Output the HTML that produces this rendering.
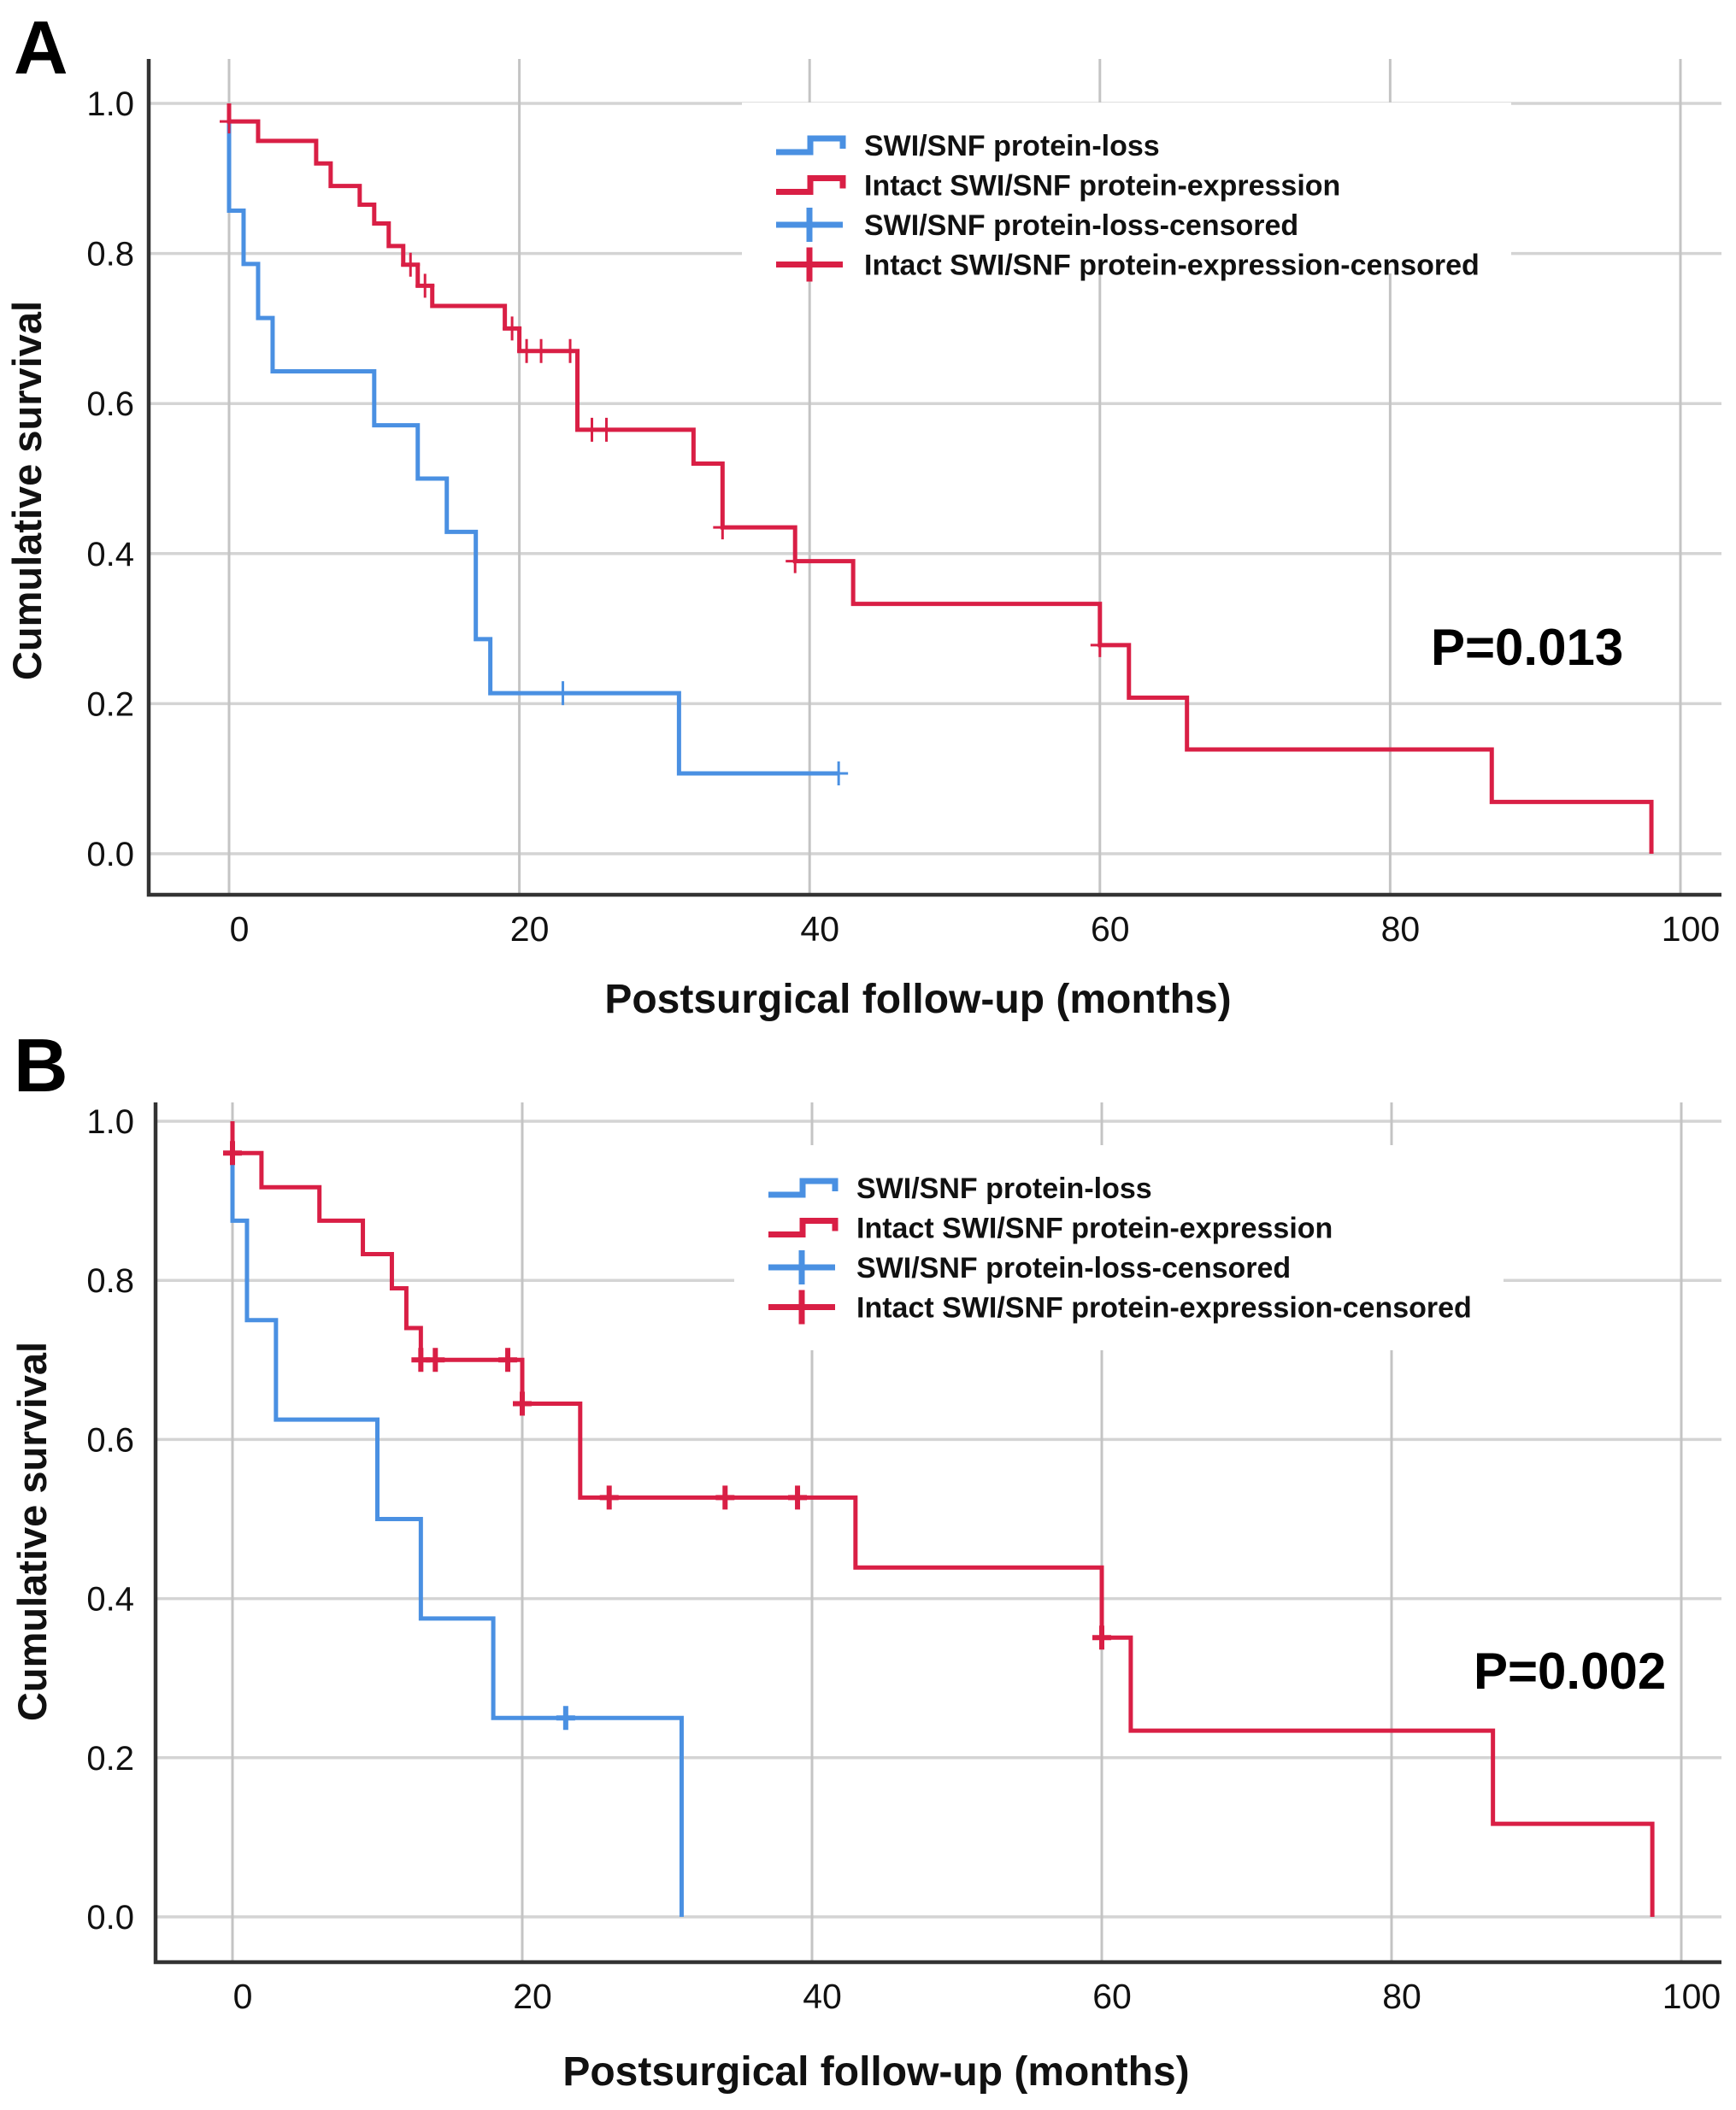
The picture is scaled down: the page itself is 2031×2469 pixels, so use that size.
<!DOCTYPE html>
<html><head><meta charset="utf-8">
<style>
html,body{margin:0;padding:0;background:#fff;}
svg{display:block;font-family:"Liberation Sans",Arial,sans-serif;}
</style></head>
<body>
<svg id="chart" width="2031" height="2469" viewBox="0 0 2031 2469" xmlns="http://www.w3.org/2000/svg"></svg>
<script>
// Panel A data
const aLossTimes = [0, 0, 1, 2, 3, 10, 13, 15, 17, 18, 31, 42];
const aLossSurv  = [1.0, 0.857, 0.786, 0.714, 0.643, 0.571, 0.5, 0.429, 0.286, 0.214, 0.107, 0.107];
const aLossCens  = [23, 42];
const aIntTimes = [0, 0, 2, 6, 7, 9, 10, 11, 12, 13, 14, 19, 20, 24, 32, 34, 39, 43, 60, 62, 66, 87, 98];
const aIntSurv  = [1.0, 0.976, 0.95, 0.92, 0.89, 0.865, 0.84, 0.81, 0.785, 0.757, 0.73, 0.70, 0.67, 0.565, 0.52, 0.435, 0.39, 0.333, 0.278, 0.208, 0.139, 0.069, 0.0];
const aIntCens  = [0, 12.5, 13.5, 19.5, 20.5, 21.5, 23.5, 25, 26, 34, 39, 60];
// Panel B data
const bLossTimes = [0, 0, 1, 3, 10, 13, 18, 31];
const bLossSurv  = [1.0, 0.875, 0.75, 0.625, 0.5, 0.375, 0.25, 0.0];
const bLossCens  = [23];
const bIntTimes = [0, 0, 2, 6, 9, 11, 12, 13, 20, 24, 43, 60, 62, 87, 98];
const bIntSurv  = [1.0, 0.96, 0.917, 0.875, 0.833, 0.79, 0.74, 0.70, 0.645, 0.527, 0.439, 0.351, 0.234, 0.117, 0.0];
const bIntCens  = [0, 13, 14, 19, 20, 26, 34, 39, 60];
const xTicks = [0, 20, 40, 60, 80, 100];
const yTicks = [0.0, 0.2, 0.4, 0.6, 0.8, 1.0];
const legendLabels = ["SWI/SNF protein-loss","Intact SWI/SNF protein-expression","SWI/SNF protein-loss-censored","Intact SWI/SNF protein-expression-censored"];

const NS = "http://www.w3.org/2000/svg";
const svg = document.getElementById('chart');
const BLUE = "#4a90e2", RED = "#d91f45";
function mk(tag, attrs, parent){ const e = document.createElementNS(NS, tag); for (const k in attrs) e.setAttribute(k, attrs[k]); (parent||svg).appendChild(e); return e; }

function panel(p){
  const g = mk('g', {});
  
  
  const sx = v => p.x0 + (p.x100 - p.x0) * v / 100;
  const sy = v => p.y0 + (p.y1 - p.y0) * v;
  yTicks.forEach(t => {
    const l = mk('line', {x1:p.left, x2:2014, y1:sy(t), y2:sy(t), stroke:"#d4d4d4", 'stroke-width':3.5}, g);
    
    
    const tx = mk('text', {x:157, y:sy(t)+14, 'text-anchor':'end', 'font-size':40, fill:'#111'}, g);
    tx.textContent = t.toFixed(1);
    
    
  });
  xTicks.forEach(t => {
    const l = mk('line', {x1:sx(t), x2:sx(t), y1:p.top, y2:p.bottom, stroke:"#c4c4c4", 'stroke-width':3}, g);
    
    
    const tx = mk('text', {x:sx(t)+12, y:p.bottom+54, 'text-anchor':'middle', 'font-size':41, fill:'#111'}, g);
    tx.textContent = t;
    
    
  });
  const lb = mk('rect', {x:p.legX-40, y:p.legY-50, width:900, height:p.legH, fill:'#fff'}, g);
  
  
  const ax = mk('path', {d:`M${p.left},${p.top} L${p.left},${p.bottom} L2014,${p.bottom}`, fill:'none', stroke:'#333', 'stroke-width':4.5}, g);
  
  
  function curve(times, surv, cens, color, nm){
    let d = `M${sx(times[0])},${sy(surv[0])}`;
    for (let i = 1; i < times.length; i++){ d += ` L${sx(times[i])},${sy(surv[i-1])} L${sx(times[i])},${sy(surv[i])}`; }
    const c = mk('path', {d:d, fill:'none', stroke:color, 'stroke-width':5, 'stroke-linejoin':'miter'}, g);
    
    
    cens.forEach(t => {
      let s = surv[0];
      for (let i = 0; i < times.length; i++){ if (times[i] <= t) s = surv[i]; }
      const cx = sx(t), cy = sy(s);
      const m = mk('path', {d:`M${cx-11},${cy} L${cx+11},${cy} M${cx},${cy-14} L${cx},${cy+14}`, stroke:color, 'stroke-width':p.cw}, g);
      
      
    });
  }
  curve(p.lossT, p.lossS, p.lossC, BLUE, 'protein-loss');
  curve(p.intT, p.intS, p.intC, RED, 'intact-expression');
  legendLabels.forEach((lab, i) => {
    const y = p.legY + i * 46.5;
    const col = (i % 2 === 0) ? BLUE : RED;
    let ic;
    if (i < 2) ic = mk('path', {d:`M${p.legX},${y+8} L${p.legX+40},${y+8} L${p.legX+40},${y-8} L${p.legX+78},${y-8} L${p.legX+78},${y+4}`, fill:'none', stroke:col, 'stroke-width':7}, g);
    else ic = mk('path', {d:`M${p.legX},${y} L${p.legX+78},${y} M${p.legX+39},${y-20} L${p.legX+39},${y+20}`, stroke:col, 'stroke-width':7}, g);
    
    
    const tx = mk('text', {x:p.legX+103, y:y+12, 'font-size':34, 'font-weight':'bold', fill:'#111'}, g);
    tx.textContent = lab;
    
    
  });
  const pv = mk('text', {x:p.px, y:p.py, 'font-size':60, 'font-weight':'bold', fill:'#000'}, g);
  pv.textContent = p.pval;
  
  
  const pl = mk('text', {x:16, y:p.labY, 'font-size':88, 'font-weight':'bold', fill:'#000'}, g);
  pl.textContent = p.label;
  
  
  const yt = mk('text', {x:0, y:0, 'font-size':47, 'font-weight':'bold', 'text-anchor':'middle', fill:'#111', transform:`translate(${p.ytX},${p.ytY}) rotate(-90)`}, g);
  yt.textContent = 'Cumulative survival';
  
  
  const xt = mk('text', {x:p.xtX, y:p.xtY, 'font-size':48, 'font-weight':'bold', 'text-anchor':'middle', fill:'#111'}, g);
  xt.textContent = 'Postsurgical follow-up (months)';
  
  
}

panel({name:'panel-a', label:'A', labY:86, x0:268, x100:1966, y1:121, y0:999, left:174, top:69, bottom:1047, cw:3,
  lossT:aLossTimes, lossS:aLossSurv, lossC:aLossCens, intT:aIntTimes, intS:aIntSurv, intC:aIntCens,
  legX:908, legY:170, legH:200, px:1674, py:778, pval:'P=0.013', ytX:48, ytY:574, xtX:1074, xtY:1185});
panel({name:'panel-b', label:'B', labY:1277, x0:272, x100:1967, y1:1312, y0:2243, left:182, top:1290, bottom:2296, cw:6,
  lossT:bLossTimes, lossS:bLossSurv, lossC:bLossCens, intT:bIntTimes, intS:bIntSurv, intC:bIntCens,
  legX:899, legY:1390, legH:240, px:1724, py:1976, pval:'P=0.002', ytX:54, ytY:1792, xtX:1025, xtY:2440});
</script>
</body></html>
